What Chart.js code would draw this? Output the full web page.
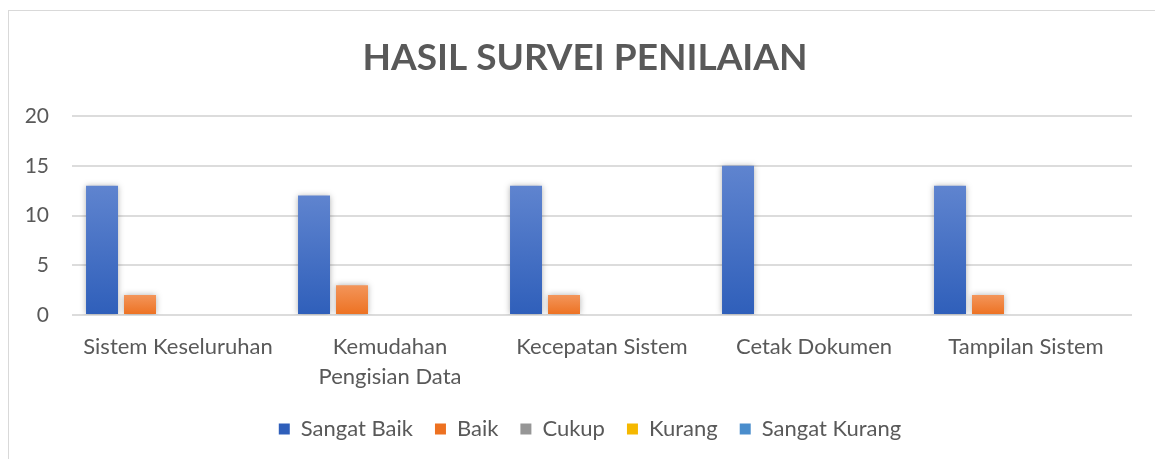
<!DOCTYPE html>
<html>
<head>
<meta charset="utf-8">
<script src="https://cdn.jsdelivr.net/npm/chart.js@4.4.1/dist/chart.umd.min.js"></script>
<style>
  html, body { margin: 0; padding: 0; background: #fff; overflow: hidden; }
  #frame { position: absolute; left: 8px; top: 10px; width: 1170px; height: 470px; border: 1px solid #d9d9d9; box-sizing: border-box; }
  #wrap { position: absolute; left: 0; top: 0; width: 1155px; height: 459px; }
</style>
</head>
<body>
<div id="frame"></div>
<div id="wrap"><canvas id="c" width="1155" height="459"></canvas></div>
<script>
const categories = ['Sistem Keseluruhan', ['Kemudahan', 'Pengisian Data'], 'Kecepatan Sistem', 'Cetak Dokumen', 'Tampilan Sistem'];
const seriesNames = ['Sangat Baik', 'Baik', 'Cukup', 'Kurang', 'Sangat Kurang'];
const sangatBaik = [13, 12, 13, 15, 13];
const baik = [2, 3, 2, 0, 2];
const cukup = [0, 0, 0, 0, 0];
const kurang = [0, 0, 0, 0, 0];
const sangatKurang = [0, 0, 0, 0, 0];
const yTicks = [0, 5, 10, 15, 20];
const titleText = 'HASIL SURVEI PENILAIAN';

const palette = [
  ['#5f84cf', '#2f5fba'],
  ['#f3955a', '#ed7121'],
  ['#b2b2b2', '#969696'],
  ['#ffc926', '#f5b800'],
  ['#6aa6dc', '#4a8dcc']
];
const FONT = 'Lato';

function gradFill(idx) {
  return function(ctx) {
    const chart = ctx.chart;
    const ca = chart.chartArea;
    if (!ca || ctx.type !== 'data') return palette[idx][1];
    const ys = chart.scales.y;
    const v = ctx.parsed ? ctx.parsed.y : 0;
    const top = ys.getPixelForValue(v);
    const bot = ys.getPixelForValue(0);
    if (!isFinite(top) || !isFinite(bot) || Math.abs(bot - top) < 1) return palette[idx][1];
    const g = chart.ctx.createLinearGradient(0, top, 0, bot);
    g.addColorStop(0, palette[idx][0]);
    g.addColorStop(1, palette[idx][1]);
    return g;
  };
}

const seriesValues = [sangatBaik, baik, cukup, kurang, sangatKurang];
const datasets = seriesNames.map((name, i) => ({
  label: name,
  data: seriesValues[i],
  backgroundColor: gradFill(i),
  borderWidth: 0,
  categoryPercentage: 0.896,
  barPercentage: 0.842
}));

const shadowPlugin = {
  id: 'barShadow',
  beforeDatasetsDraw(chart) {
    const c = chart.ctx;
    c.save();
    c.shadowColor = 'rgba(0,0,0,0.30)';
    c.shadowBlur = 6;
    c.shadowOffsetX = 0;
    c.shadowOffsetY = 0;
  },
  afterDatasetsDraw(chart) {
    chart.ctx.restore();
  }
};

// The chart frame extends past the right edge of the window, so title and legend
// are centred on the frame rather than on the visible canvas.
const centerShiftPlugin = {
  id: 'centerShift',
  afterLayout(chart) {
    if (chart.titleBlock) { chart.titleBlock.left += 19; chart.titleBlock.right += 19; }
    if (chart.legend) { chart.legend.left += 24; chart.legend.right += 24; }
  }
};

const legendColors = palette.map(p => p[1]);

new Chart(document.getElementById('c'), {
  type: 'bar',
  data: { labels: categories, datasets: datasets },
  plugins: [shadowPlugin, centerShiftPlugin],
  options: {
    responsive: false,
    animation: false,
    devicePixelRatio: 1,
    layout: { padding: { left: 0, right: 23, top: 0, bottom: 9 } },
    plugins: {
      tooltip: { enabled: false },
      title: {
        display: true,
        text: titleText,
        color: '#595959',
        font: { family: FONT, size: 37, weight: 'bold', lineHeight: 1.2 },
        padding: { top: 36, bottom: 35.6 }
      },
      legend: {
        position: 'bottom',
        labels: {
          color: '#595959',
          font: { family: FONT, size: 22 },
          boxWidth: 11,
          boxHeight: 11,
          padding: 22,
          generateLabels(chart) {
            return chart.data.datasets.map((ds, i) => ({
              text: ds.label,
              fillStyle: legendColors[i],
              strokeStyle: legendColors[i],
              lineWidth: 0,
              hidden: false,
              datasetIndex: i,
              fontColor: '#595959'
            }));
          }
        }
      }
    },
    scales: {
      x: {
        grid: { display: false, drawTicks: false },
        border: { display: false },
        ticks: {
          color: '#595959',
          font: { family: FONT, size: 22, lineHeight: 1.36 },
          maxRotation: 0,
          autoSkip: false,
          padding: 17
        },
        afterFit(scale) { scale.height = 81; }
      },
      y: {
        min: 0,
        max: 20,
        grid: { color: '#dcdcdc', lineWidth: 2, drawTicks: false },
        border: { display: false },
        afterBuildTicks(scale) { scale.ticks = yTicks.map(v => ({ value: v })); },
        ticks: {
          color: '#595959',
          font: { family: FONT, size: 21 },
          padding: 23
        },
        afterFit(scale) { scale.width = 72; }
      }
    }
  }
});
</script>
</body>
</html>
